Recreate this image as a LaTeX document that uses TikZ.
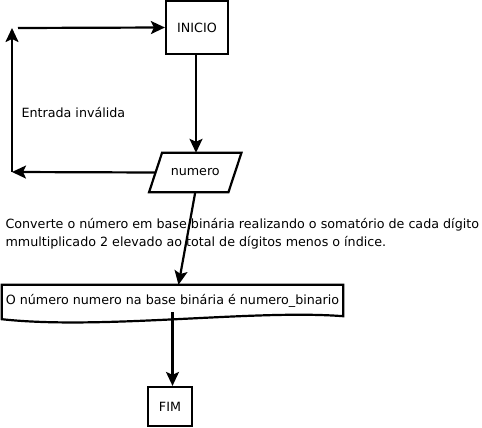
\documentclass[tikz,border=0pt]{standalone}
\usepackage{fontspec}
\setmainfont{DejaVu Sans}
\usetikzlibrary{positioning, arrows.meta, shapes.geometric, calc}

\begin{document}
\begin{tikzpicture}[
        x=1pt, y=-1pt,
        every node/.style={font=\fontsize{12.7}{18}\selectfont},
        block/.style={rectangle, draw, line width=2.2pt, inner sep=0pt},
        flow/.style={line width=2.2pt, -{Stealth[length=14pt, width=13pt, inset=3pt]}}
    ]
    \useasboundingbox (0,0) rectangle (482,428);

    % Blocks
    \node[block, minimum width=62pt, minimum height=53pt] (inicio) at (197, 27.5) {INICIO};
    \node[rectangle, minimum width=79pt, minimum height=39pt, inner sep=0pt] (numero) at (195.25, 172.5) {numero};
    \node[rectangle, minimum width=341pt, minimum height=31pt, inner sep=0pt] (saida) at (172.5, 300.5)
        {O número numero na base binária é numero\_binario};
    \node[block, minimum width=44pt, minimum height=39pt] (fim) at (170, 406.5) {FIM};

    % Parallelogram of the input block
    \draw[line width=2.2pt] ($(numero.south west)+(-6.5,0)$) -- ($(numero.south east)+(-6.5,0)$)
        -- ($(numero.north east)+(6.5,0)$) -- ($(numero.north west)+(6.5,0)$) -- cycle;

    % Document outline of the output block
    \draw[line width=2.2pt] (saida.north west) -- (saida.north east) -- (saida.south east)
        .. controls ($(saida.south east)+(-90,-7)$) and ($(saida.south west)+(100,14)$) .. ($(saida.south west)+(0,3)$)
        -- cycle;

    % Loop back for an invalid input
    \coordinate (loopa) at (12, 172);
    \coordinate (loopb) at (12, 28);
    \coordinate (loopc) at (18, 28);
    \node[anchor=west] (invalida) at (18, 113) {Entrada inválida};

    % Processing text
    \node[anchor=west, align=left] (converte) at (2, 234)
        {Converte o número em base binária realizando o somatório de cada dígito\\
         mmultiplicado 2 elevado ao total de dígitos menos o índice.};

    % --------------------------------------------------
    % Connectors
    \draw[flow] (inicio.south -| 196, 0) -- (196, 0 |- numero.north);
    \draw[flow] (numero.west) -- (loopa);
    \draw[flow] (loopa) -- (loopb);
    \draw[flow] (loopc) -- (inicio.west);
    \draw[flow] (numero.south) -- ([xshift=6pt]saida.north);
    \draw[flow] ([yshift=4pt]saida.south) -- (saida.south |- fim.north);

\end{tikzpicture}
\end{document}
